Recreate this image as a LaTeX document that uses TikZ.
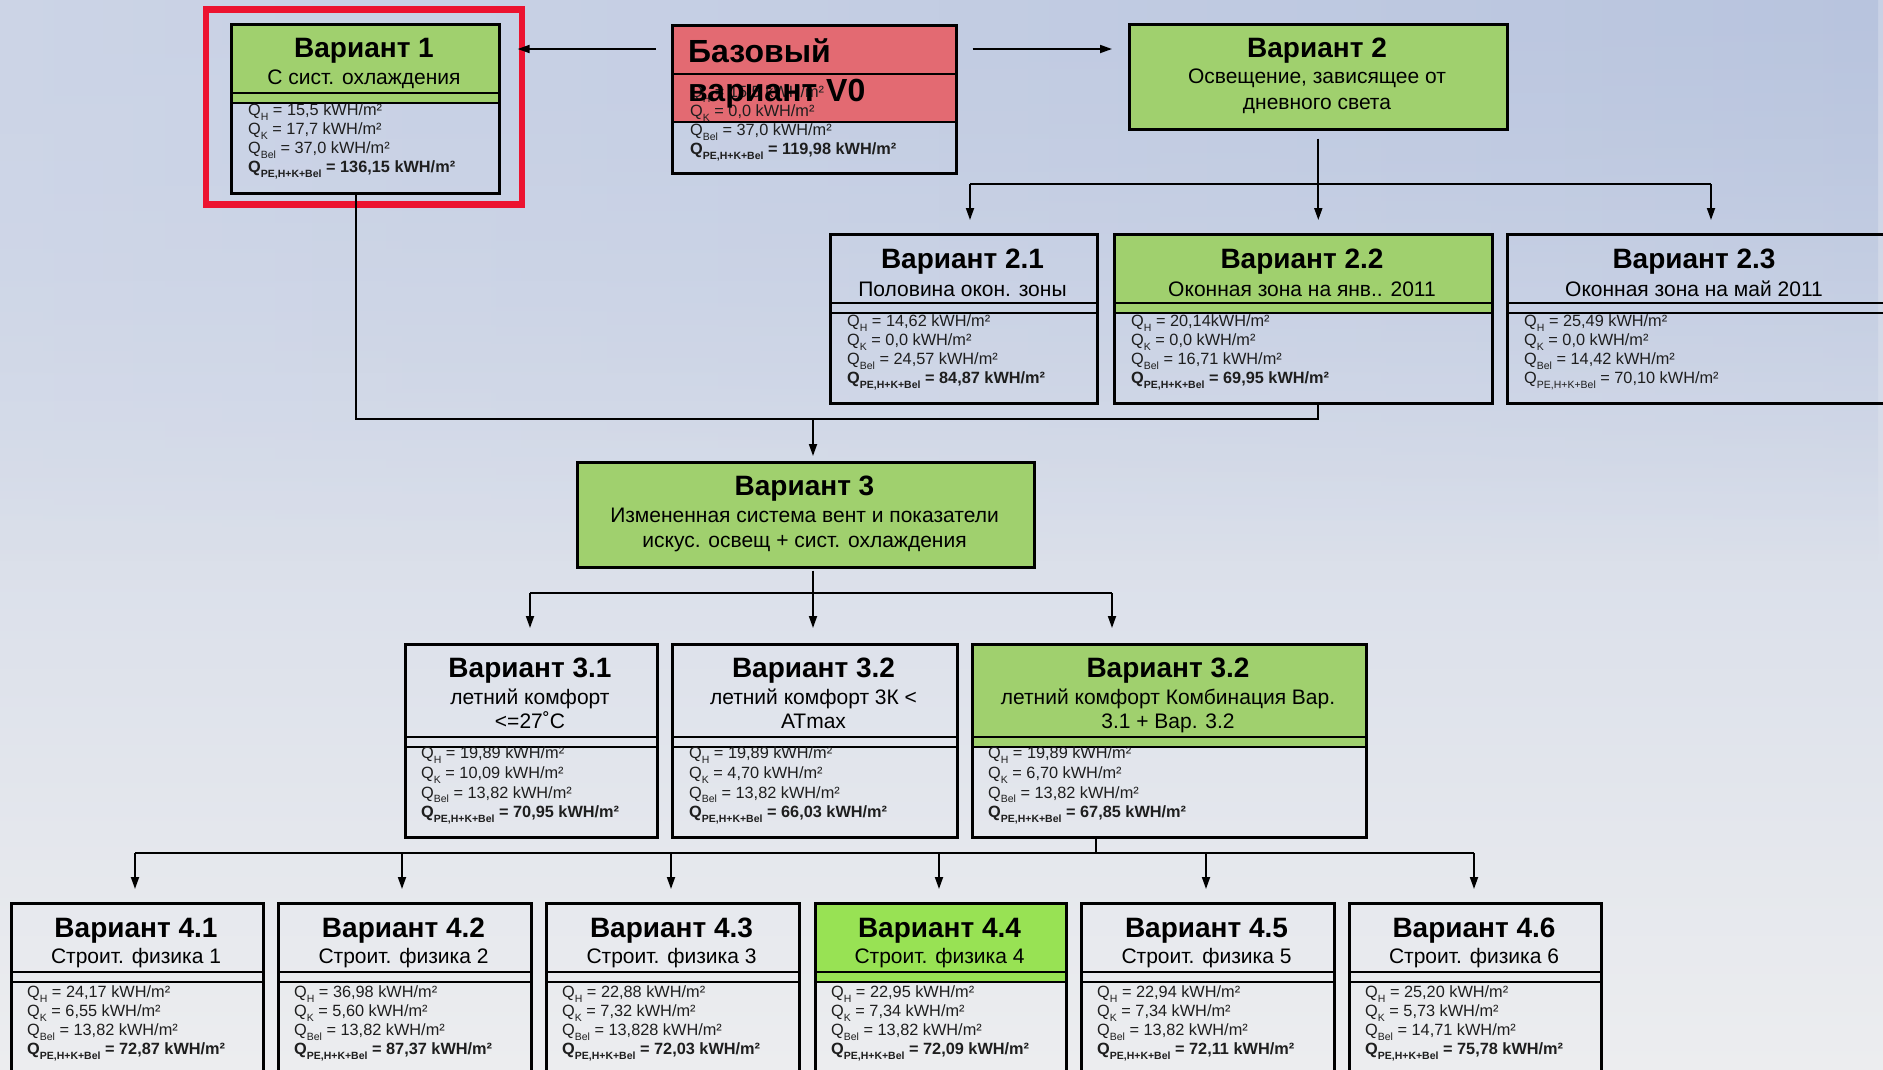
\documentclass[tikz,border=0pt]{standalone}
\usepackage{fontspec}
\setmainfont{Liberation Sans}
\usetikzlibrary{arrows.meta,fadings}
\definecolor{gr}{HTML}{A0D06E}
\definecolor{grb}{HTML}{98E254}
\definecolor{rd}{HTML}{E36A72}
\definecolor{hl}{HTML}{EC1330}
\definecolor{bgtop}{HTML}{C8D1E5}
\definecolor{bgtopl}{HTML}{CDD5E7}
\definecolor{bgtopr}{HTML}{B8C4DE}
\definecolor{bgmid}{HTML}{D9DFEA}
\definecolor{bgbot}{HTML}{ECEDEF}
\definecolor{dtx}{HTML}{1E1E1E}
\tikzfading[name=fadedown, top color=transparent!0, bottom color=transparent!100]
\tikzset{
 boxst/.style={draw=black, line width=2.6pt, inner sep=0pt, anchor=north west},
 sepl/.style={line width=2.6pt},
 conn/.style={line width=1.8pt},
 arr/.style={conn, -{Triangle[length=12pt,width=8pt]}},
 ttl/.style={anchor=base, inner sep=0pt, font=\fontsize{28}{31}\selectfont\bfseries},
 subst/.style={anchor=base, inner sep=0pt, font=\fontsize{21}{24}\selectfont},
 bigt/.style={anchor=base west, inner sep=0pt, font=\fontsize{32}{36}\selectfont\bfseries},
 dat/.style={anchor=north west, inner sep=0pt, align=left, text=dtx, font=\fontsize{16.3}{19}\selectfont},
 datw/.style={dat, font=\fontsize{16.3}{19.7}\selectfont},
}
\newcommand{\qv}[2]{Q\raisebox{-0.3em}{\fontsize{10.5}{10.5}\selectfont #1} = #2}
\newcommand{\qb}[2]{\textbf{\qv{#1}{#2}}}
\newcommand{\dblk}[8][dat]{\node[#1] (#2) at (#3,#4-13.3) {\strut#5\\#6\\#7\\#8};}
\newcommand{\vbx}[8]{%
 \path[fill=#8] (#2,#4) rectangle (#3,#6);
 \pgfmathsetmacro\bxw{#3-#2}\pgfmathsetmacro\bxh{#7-#4}%
 \node[boxst, minimum width=\bxw pt, minimum height=\bxh pt] (#1) at (#2,#4) {};
 \draw[sepl] (#2,#5) -- (#3,#5) (#2,#6) -- (#3,#6);
}
\begin{document}
\begin{tikzpicture}[x=1pt,y=-1pt]
\useasboundingbox (0,0) rectangle (1883,1069);
\shade[top color=bgtop, middle color=bgmid, bottom color=bgbot] (0,0) rectangle (1883,1069);
\shade[left color=bgtopl, right color=bgtopr, path fading=fadedown] (0,0) rectangle (1883,560);
\clip (0,0) rectangle (1883,1069);

% ---------- top row ----------
\vbx{v1}{230}{498}{23}{93}{103}{192}{gr}
\node[ttl] (t1) at (364,57) {Вариант 1};
\node[subst] (s1) at (364,84) {С сист. охлаждения};
\dblk{d1}{248}{115}{\qv{H}{15,5 kWH/m²}}{\qv{K}{17,7 kWH/m²}}{\qv{Bel}{37,0 kWH/m²}}{\qb{PE,H+K+Bel}{136,15 kWH/m²}}
\draw[hl, line width=6.5pt] (206,9.5) rectangle (522,204.5);

% base
\fill[rd] (671,24) rectangle (955,122);
\node[boxst, minimum width=284pt, minimum height=148pt] (v0) at (671,24) {};
\draw[sepl] (671,74) -- (955,74) (671,122) -- (955,122);
\dblk{d0}{690}{97}{\qv{H}{15,5 kWH/m²}}{\qv{K}{0,0 kWH/m²}}{\qv{Bel}{37,0 kWH/m²}}{\qb{PE,H+K+Bel}{119,98 kWH/m²}}
\node[bigt] (t0a) at (688,62) {Базовый};
\node[bigt] (t0b) at (688,101) {вариант V0};

% variant 2
\node[boxst, fill=gr, minimum width=378pt, minimum height=105pt] (v2) at (1128,23) {};
\node[ttl] (t2) at (1317,57) {Вариант 2};
\node[subst] (s2a) at (1317,83) {Освещение, зависящее от};
\node[subst] (s2b) at (1317,109) {дневного света};

% ---------- row 2 ----------
\vbx{v21}{829}{1096}{233}{303}{313}{402}{none}
\vbx{v22}{1113}{1491}{233}{303}{313}{402}{gr}
\vbx{v23}{1506}{1886}{233}{303}{313}{402}{none}
\node[ttl] (t21) at (962.5,268) {Вариант 2.1};
\node[subst] (s21) at (962.5,296) {Половина окон. зоны};
\node[ttl] (t22) at (1302,268) {Вариант 2.2};
\node[subst] (s22) at (1302,296) {Оконная зона на янв.. 2011};
\node[ttl] (t23) at (1694,268) {Вариант 2.3};
\node[subst] (s23) at (1694,296) {Оконная зона на май 2011};
\dblk{d21}{847}{326}{\qv{H}{14,62 kWH/m²}}{\qv{K}{0,0 kWH/m²}}{\qv{Bel}{24,57 kWH/m²}}{\qb{PE,H+K+Bel}{84,87 kWH/m²}}
\dblk{d22}{1131}{326}{\qv{H}{20,14kWH/m²}}{\qv{K}{0,0 kWH/m²}}{\qv{Bel}{16,71 kWH/m²}}{\qb{PE,H+K+Bel}{69,95 kWH/m²}}
\dblk{d23}{1524}{326}{\qv{H}{25,49 kWH/m²}}{\qv{K}{0,0 kWH/m²}}{\qv{Bel}{14,42 kWH/m²}}{\qv{PE,H+K+Bel}{70,10 kWH/m²}}

% ---------- variant 3 ----------
\node[boxst, fill=gr, minimum width=457pt, minimum height=105pt] (v3) at (576,461) {};
\node[ttl] (t3) at (804.5,495) {Вариант 3};
\node[subst] (s3a) at (804.5,522) {Измененная система вент и показатели};
\node[subst] (s3b) at (804.5,547) {искус. освещ + сист. охлаждения};

% ---------- row 3 ----------
\vbx{v31}{404}{656}{643}{737}{747}{836}{none}
\vbx{v32}{671}{956}{643}{737}{747}{836}{none}
\vbx{v33}{971}{1365}{643}{737}{747}{836}{gr}
\node[ttl] (t31) at (530,677) {Вариант 3.1};
\node[subst] (s31a) at (530,704) {летний комфорт};
\node[subst] (s31b) at (530,728) {<=27˚C};
\node[ttl] (t32) at (813.5,677) {Вариант 3.2};
\node[subst] (s32a) at (813.5,704) {летний комфорт 3К <};
\node[subst] (s32b) at (813.5,728) {ATmax};
\node[ttl] (t33) at (1168,677) {Вариант 3.2};
\node[subst] (s33a) at (1168,704) {летний комфорт Комбинация Вар.};
\node[subst] (s33b) at (1168,728) {3.1 + Вар. 3.2};
\dblk[datw]{d31}{421}{758}{\qv{H}{19,89 kWH/m²}}{\qv{K}{10,09 kWH/m²}}{\qv{Bel}{13,82 kWH/m²}}{\qb{PE,H+K+Bel}{70,95 kWH/m²}}
\dblk[datw]{d32}{689}{758}{\qv{H}{19,89 kWH/m²}}{\qv{K}{4,70 kWH/m²}}{\qv{Bel}{13,82 kWH/m²}}{\qb{PE,H+K+Bel}{66,03 kWH/m²}}
\dblk[datw]{d33}{988}{758}{\qv{H}{19,89 kWH/m²}}{\qv{K}{6,70 kWH/m²}}{\qv{Bel}{13,82 kWH/m²}}{\qb{PE,H+K+Bel}{67,85 kWH/m²}}

% ---------- row 4 ----------
\vbx{v41}{10}{262}{902}{972}{982}{1085}{none}
\vbx{v42}{277}{530}{902}{972}{982}{1085}{none}
\vbx{v43}{545}{798}{902}{972}{982}{1085}{none}
\vbx{v44}{814}{1065}{902}{972}{982}{1085}{grb}
\vbx{v45}{1080}{1333}{902}{972}{982}{1085}{none}
\vbx{v46}{1348}{1600}{902}{972}{982}{1085}{none}
\node[ttl] (t41) at (136,937) {Вариант 4.1};
\node[subst] (s41) at (136,963) {Строит. физика 1};
\node[ttl] (t42) at (403.5,937) {Вариант 4.2};
\node[subst] (s42) at (403.5,963) {Строит. физика 2};
\node[ttl] (t43) at (671.5,937) {Вариант 4.3};
\node[subst] (s43) at (671.5,963) {Строит. физика 3};
\node[ttl] (t44) at (939.5,937) {Вариант 4.4};
\node[subst] (s44) at (939.5,963) {Строит. физика 4};
\node[ttl] (t45) at (1206.5,937) {Вариант 4.5};
\node[subst] (s45) at (1206.5,963) {Строит. физика 5};
\node[ttl] (t46) at (1474,937) {Вариант 4.6};
\node[subst] (s46) at (1474,963) {Строит. физика 6};
\dblk{d41}{27}{997}{\qv{H}{24,17 kWH/m²}}{\qv{K}{6,55 kWH/m²}}{\qv{Bel}{13,82 kWH/m²}}{\qb{PE,H+K+Bel}{72,87 kWH/m²}}
\dblk{d42}{294}{997}{\qv{H}{36,98 kWH/m²}}{\qv{K}{5,60 kWH/m²}}{\qv{Bel}{13,82 kWH/m²}}{\qb{PE,H+K+Bel}{87,37 kWH/m²}}
\dblk{d43}{562}{997}{\qv{H}{22,88 kWH/m²}}{\qv{K}{7,32 kWH/m²}}{\qv{Bel}{13,828 kWH/m²}}{\qb{PE,H+K+Bel}{72,03 kWH/m²}}
\dblk{d44}{831}{997}{\qv{H}{22,95 kWH/m²}}{\qv{K}{7,34 kWH/m²}}{\qv{Bel}{13,82 kWH/m²}}{\qb{PE,H+K+Bel}{72,09 kWH/m²}}
\dblk{d45}{1097}{997}{\qv{H}{22,94 kWH/m²}}{\qv{K}{7,34 kWH/m²}}{\qv{Bel}{13,82 kWH/m²}}{\qb{PE,H+K+Bel}{72,11 kWH/m²}}
\dblk{d46}{1365}{997}{\qv{H}{25,20 kWH/m²}}{\qv{K}{5,73 kWH/m²}}{\qv{Bel}{14,71 kWH/m²}}{\qb{PE,H+K+Bel}{75,78 kWH/m²}}

% ---------- connectors ----------
\coordinate (ya) at (0,49);
\draw[arr, shorten <=15pt, shorten >=17pt] (v0.west |- ya) -- (v1.east |- ya);
\draw[arr, shorten <=15pt, shorten >=16pt] (v0.east |- ya) -- (v2.west |- ya);

\coordinate (c21) at (970,184);
\coordinate (c23) at (1711,184);
\draw[conn] (c21) -- (c23);
\draw[arr, shorten <=8pt, shorten >=13pt] (v2.south) -- (v22.north -| v2.south);
\draw[arr, shorten >=13pt] (c21) -- (v21.north -| c21);
\draw[arr, shorten >=13pt] (c23) -- (v23.north -| c23);

\coordinate (j1) at (356,419);
\coordinate (j2) at (1318,419);
\coordinate (j3) at (813,419);
\draw[conn] (v1.south -| j1) -- (j1) -- (j2) -- (v22.south -| j2);
\draw[arr, shorten >=5pt] (j3) -- (v3.north -| j3);

\coordinate (k1) at (530,593);
\coordinate (k2) at (813,593);
\coordinate (k3) at (1112,593);
\draw[conn] (k1) -- (k3);
\draw[arr, shorten <=2pt, shorten >=15pt] (v3.south -| k2) -- (v32.north -| k2);
\draw[arr, shorten >=15pt] (k1) -- (v31.north -| k1);
\draw[arr, shorten >=15pt] (k3) -- (v33.north -| k3);

\coordinate (m0) at (1096,853);
\coordinate (m1) at (135,853);
\coordinate (m2) at (402,853);
\coordinate (m3) at (671,853);
\coordinate (m4) at (939,853);
\coordinate (m5) at (1206,853);
\coordinate (m6) at (1474,853);
\draw[conn] (v33.south -| m0) -- (m0);
\draw[conn] (m1) -- (m6);
\foreach \i in {1,...,6} { \draw[arr, shorten >=13pt] (m\i) -- (v4\i.north -| m\i); }
\end{tikzpicture}
\end{document}
